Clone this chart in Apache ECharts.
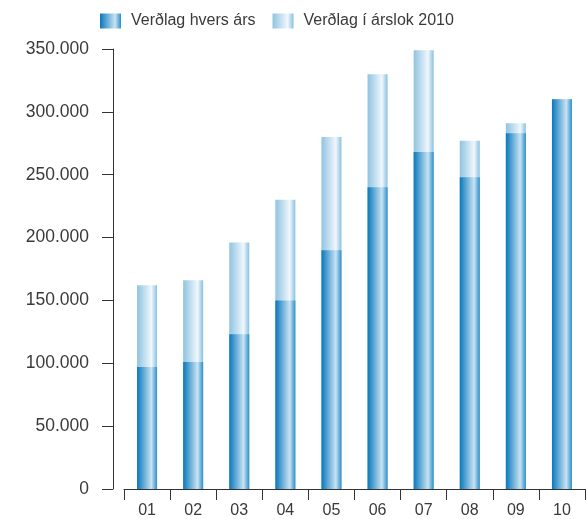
<!DOCTYPE html>
<html>
<head>
<meta charset="utf-8">
<script src="https://cdn.jsdelivr.net/npm/echarts@6/dist/echarts.min.js"></script>
<style>html,body{margin:0;padding:0;background:#fff}#c{width:587px;height:519px}</style>
</head>
<body>
<div id="c"></div>
<script>
var categories = ['01','02','03','04','05','06','07','08','09','10'];
var verdlagHversArs = [97000, 101000, 123000, 150000, 190000, 240000, 268000, 248000, 283000, 310000];
var verdlagArslok2010 = [162000, 166000, 196000, 230000, 280000, 330000, 349000, 277000, 291000, 310000];
var seriesNames = ['Verðlag hvers árs', 'Verðlag í árslok 2010'];

function grad(c0, c1, c2) {
  return new echarts.graphic.LinearGradient(0, 0, 1, 0, [
    {offset: 0, color: c0},
    {offset: 0.72, color: c1},
    {offset: 1, color: c2}
  ]);
}
var darkGrad = grad('#0878bd', '#c9e3f2', '#2a8fcb');
var lightGrad = grad('#8fc3e1', '#f0f7fc', '#88c0e0');

var FONT = '"Liberation Sans", Arial, sans-serif';
var chart = echarts.init(document.getElementById('c'), null, {renderer: 'canvas'});
chart.setOption({
  animation: false,
  legend: {
    data: [seriesNames[0], seriesNames[1]],
    top: 13,
    left: 100,
    padding: 0,
    icon: 'rect',
    itemWidth: 21,
    itemHeight: 15,
    itemGap: 17,
    textStyle: {fontFamily: FONT, fontSize: 16, color: '#3a3a3a', padding: [0, 0, 0, 5]}
  },
  grid: {left: 124, right: 2, top: 49, bottom: 28, containLabel: false},
  xAxis: {
    type: 'category',
    data: categories,
    boundaryGap: true,
    axisLine: {lineStyle: {color: '#333', width: 1}},
    axisTick: {show: true, length: 11, alignWithLabel: false, lineStyle: {color: '#333'}},
    axisLabel: {fontFamily: FONT, fontSize: 16, color: '#3a3a3a', margin: 14}
  },
  yAxis: {
    type: 'value',
    min: 0, max: 350000, interval: 50000,
    offset: 11,
    axisLine: {show: true, lineStyle: {color: '#333', width: 1}},
    axisTick: {show: true, length: 11, lineStyle: {color: '#333'}},
    splitLine: {show: false},
    axisLabel: {
      fontFamily: FONT, fontSize: 17.5, color: '#3a3a3a', margin: 24,
      formatter: function (v) { return String(v).replace(/\B(?=(\d{3})+(?!\d))/g, '.'); }
    }
  },
  series: [
    {
      name: seriesNames[1], type: 'bar', data: verdlagArslok2010,
      barWidth: 20, barGap: '-100%',
      itemStyle: {color: lightGrad}
    },
    {
      name: seriesNames[0], type: 'bar', data: verdlagHversArs,
      barWidth: 20, barGap: '-100%',
      itemStyle: {color: darkGrad}
    }
  ]
});
</script>
</body>
</html>
